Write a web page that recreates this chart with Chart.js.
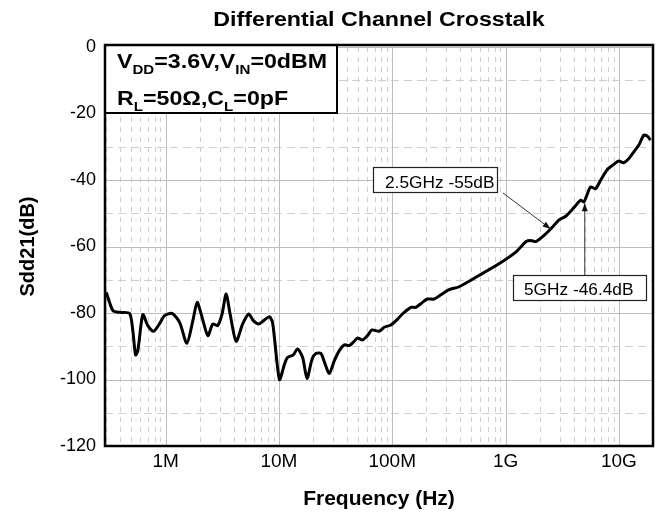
<!DOCTYPE html>
<html>
<head>
<meta charset="utf-8">
<script src="https://cdn.jsdelivr.net/npm/chart.js@4.4.1/dist/chart.umd.min.js"></script>
<style>
  html, body { margin: 0; padding: 0; background: #fff; }
  #wrap { width: 658px; height: 512px; }
</style>
</head>
<body>
<div id="wrap"><canvas id="xtalkChart" width="658" height="512"></canvas></div>
<script>
// data
const freqHz = [
  3.0e5, 3.43e5, 3.93e5, 4.81e5, 5.14e5, 5.43e5, 5.69e5, 6.30e5, 6.97e5, 7.83e5,
  8.85e5, 9.79e5, 1.14e6, 1.33e6, 1.54e6, 1.74e6, 1.90e6, 2.06e6, 2.36e6, 2.61e6,
  2.88e6, 3.15e6, 3.42e6, 3.71e6, 4.19e6, 4.79e6, 5.41e6, 5.95e6, 6.63e6, 7.44e6,
  8.24e6, 8.81e6, 1.01e7, 1.12e7, 1.19e7, 1.34e7, 1.46e7, 1.62e7, 1.77e7, 1.96e7,
  2.12e7, 2.35e7, 2.56e7, 2.78e7, 3.08e7, 3.40e7, 3.78e7, 4.18e7, 4.62e7, 4.94e7,
  5.47e7, 6.05e7, 6.62e7, 7.67e7, 8.49e7, 9.73e7, 1.08e8, 1.23e8, 1.46e8, 1.61e8,
  1.85e8, 2.04e8, 2.34e8, 2.69e8, 3.18e8, 3.89e8, 5.83e8, 8.75e8, 1.23e9, 1.52e9,
  1.67e9, 1.85e9, 2.26e9, 2.67e9, 2.96e9, 3.39e9, 4.01e9, 4.59e9, 4.91e9, 5.25e9,
  5.62e9, 6.22e9, 6.89e9, 7.88e9, 9.02e9, 9.98e9, 1.10e10, 1.22e10, 1.35e10, 1.50e10,
  1.66e10, 1.78e10, 1.90e10
];
const sdd21dB = [
  -73.8, -79.3, -79.8, -80.1, -85.3, -92.6, -91.3, -80.5, -83.8, -85.5,
  -83.2, -80.8, -80.1, -82.8, -89.1, -82.3, -76.8, -80.3, -86.8, -83.3,
  -83.8, -80.3, -74.3, -80.3, -88.5, -83.3, -80.3, -82.3, -83.3, -82.1,
  -81.1, -83.0, -100.0, -95.4, -93.4, -92.6, -90.8, -93.4, -99.7, -93.9,
  -92.2, -92.2, -95.4, -98.2, -94.4, -91.4, -89.6, -89.8, -88.5, -87.5,
  -88.1, -86.8, -85.1, -85.5, -84.3, -83.6, -82.3, -80.3, -78.3, -78.3,
  -76.8, -75.8, -75.8, -74.5, -73.0, -72.1, -68.7, -65.2, -61.7, -58.5,
  -58.2, -58.5, -56.2, -53.7, -52.0, -50.9, -48.3, -46.1, -46.6, -44.3,
  -42.1, -42.6, -40.1, -36.9, -35.3, -34.3, -34.8, -33.6, -31.6, -29.5,
  -26.5, -26.8, -28.0
];
const xTickValues = [1e6, 1e7, 1e8, 1e9, 1e10];
const xTickLabels = ['1M', '10M', '100M', '1G', '10G'];
const yTicks = [0, -20, -40, -60, -80, -100, -120];

// markers
const markFreq = [2.5e9, 5e9];
const markDb = [-55, -46.4];
const markText = ['2.5GHz -55dB', '5GHz -46.4dB'];

const FONT = '"Liberation Sans", Arial, sans-serif';

// draw text in pieces, some as subscripts, widened a bit like the original
function richText(ctx, x, y, parts, size, bold, stretch) {
  let cx = x;
  parts.forEach(function(p) {
    const sub = p[1];
    const fs = sub ? Math.round(size * 0.66) : size;
    ctx.font = (bold ? 'bold ' : 'normal ') + fs + 'px ' + FONT;
    ctx.save();
    ctx.translate(cx, y + (sub ? size * 0.28 : 0));
    ctx.scale(stretch, 1);
    ctx.fillText(p[0], 0, 0);
    ctx.restore();
    cx += ctx.measureText(p[0]).width * stretch;
  });
}

function arrow(ctx, x0, y0, x1, y1) {
  const a = Math.atan2(y1 - y0, x1 - x0);
  ctx.strokeStyle = '#333';
  ctx.fillStyle = '#111';
  ctx.lineWidth = 1;
  ctx.beginPath();
  ctx.moveTo(x0, y0);
  ctx.lineTo(x1, y1);
  ctx.stroke();
  ctx.beginPath();
  ctx.moveTo(x1, y1);
  ctx.lineTo(x1 - 8 * Math.cos(a) + 3 * Math.sin(a), y1 - 8 * Math.sin(a) - 3 * Math.cos(a));
  ctx.lineTo(x1 - 8 * Math.cos(a) - 3 * Math.sin(a), y1 - 8 * Math.sin(a) + 3 * Math.cos(a));
  ctx.closePath();
  ctx.fill();
}

const gridPlugin = {
  id: 'gridPlugin',
  beforeDatasetsDraw(chart) {
    const ctx = chart.ctx;
    const a = chart.chartArea;
    const xs = chart.scales.x, ys = chart.scales.y;
    ctx.save();
    ctx.lineWidth = 1;
    // minor vertical lines
    ctx.strokeStyle = '#cfcfcf';
    ctx.setLineDash([5, 5]);
    for (let d = 5; d <= 10; d++) {
      for (let m = 2; m <= 9; m++) {
        const v = m * Math.pow(10, d);
        if (v < xs.min || v > xs.max) continue;
        const px = Math.round(xs.getPixelForValue(v)) + 0.5;
        ctx.beginPath(); ctx.moveTo(px, a.top); ctx.lineTo(px, a.bottom); ctx.stroke();
      }
    }
    // minor horizontal lines
    ctx.setLineDash([8, 5]);
    for (let v = -110; v < 0; v += 20) {
      const py = Math.round(ys.getPixelForValue(v)) + 0.5;
      ctx.beginPath(); ctx.moveTo(a.left, py); ctx.lineTo(a.right, py); ctx.stroke();
    }
    // major lines
    ctx.setLineDash([]);
    ctx.strokeStyle = '#bdbdbd';
    xTickValues.forEach(function(v) {
      const px = Math.round(xs.getPixelForValue(v)) + 0.5;
      ctx.beginPath(); ctx.moveTo(px, a.top); ctx.lineTo(px, a.bottom); ctx.stroke();
    });
    yTicks.forEach(function(v) {
      const py = Math.round(ys.getPixelForValue(v)) + 0.5;
      ctx.beginPath(); ctx.moveTo(a.left, py); ctx.lineTo(a.right, py); ctx.stroke();
    });
    ctx.restore();
  },
  afterDatasetsDraw(chart) {
    const ctx = chart.ctx;
    const a = chart.chartArea;
    const xs = chart.scales.x, ys = chart.scales.y;
    ctx.save();
    ctx.textBaseline = 'alphabetic';
    ctx.textAlign = 'left';

    // condition box
    ctx.fillStyle = '#fff';
    ctx.fillRect(a.left, a.top - 2, 232, 68);
    ctx.strokeStyle = '#000';
    ctx.lineWidth = 2;
    ctx.strokeRect(a.left, a.top - 2, 232, 68);
    ctx.fillStyle = '#000';
    richText(ctx, a.left + 12, a.top + 21, [['V', 0], ['DD', 1], ['=3.6V,V', 0], ['IN', 1], ['=0dBM', 0]], 20, true, 1.16);
    richText(ctx, a.left + 12, a.top + 58, [['R', 0], ['L', 1], ['=50Ω,C', 0], ['L', 1], ['=0pF', 0]], 20, true, 1.16);

    // marker callouts
    const boxes = [[373, 167, 124, 25, 385, 188], [513, 275, 133, 25, 524, 295]];
    const starts = [[503, 193], [null, 275]];
    markFreq.forEach(function(f, i) {
      const tx = xs.getPixelForValue(f), ty = ys.getPixelForValue(markDb[i]);
      const b = boxes[i];
      const sx = starts[i][0] === null ? tx : starts[i][0];
      arrow(ctx, sx, starts[i][1], tx, ty + (i === 1 ? 2 : -1));
      ctx.fillStyle = '#fff';
      ctx.fillRect(b[0], b[1], b[2], b[3]);
      ctx.strokeStyle = '#222';
      ctx.lineWidth = 1.2;
      ctx.strokeRect(b[0] + 0.5, b[1] + 0.5, b[2], b[3]);
      ctx.fillStyle = '#000';
      richText(ctx, b[4], b[5], [[markText[i], 0]], 16, false, 1.08);
    });

    // plot frame
    ctx.strokeStyle = '#000';
    ctx.lineWidth = 2.5;
    ctx.strokeRect(a.left, a.top - 2, a.right - a.left, a.bottom - a.top + 2);
    ctx.restore();
  },
  afterDraw(chart) {
    const ctx = chart.ctx;
    const a = chart.chartArea;
    ctx.save();
    ctx.fillStyle = '#000';
    ctx.textBaseline = 'alphabetic';
    ctx.textAlign = 'left';
    const t = 'Differential Channel Crosstalk';
    ctx.font = 'bold 20px ' + FONT;
    const w = ctx.measureText(t).width * 1.16;
    richText(ctx, (a.left + a.right) / 2 - w / 2, 26, [[t, 0]], 20, true, 1.16);
    ctx.restore();
  }
};

new Chart('xtalkChart', {
  type: 'line',
  data: {
    datasets: [{
      data: freqHz.map(function(f, i) { return { x: f, y: sdd21dB[i] }; }),
      borderColor: '#000',
      borderWidth: 3,
      pointRadius: 0,
      tension: 0.25,
      fill: false
    }]
  },
  options: {
    responsive: false,
    animation: false,
    layout: { padding: { top: 47, right: 5, left: 0, bottom: 0 } },
    plugins: { legend: { display: false }, tooltip: { enabled: false }, title: { display: false } },
    scales: {
      x: {
        type: 'logarithmic',
        min: 2.92e5,
        max: 2.0e10,
        afterBuildTicks: function(scale) {
          scale.ticks = xTickValues.map(function(v) { return { value: v }; });
        },
        afterFit: function(scale) { scale.height = 66; },
        grid: { display: false, drawTicks: false },
        border: { display: false },
        ticks: {
          autoSkip: false,
          maxRotation: 0,
          padding: 4,
          color: '#000',
          font: { family: FONT, size: 19 },
          callback: function(v) {
            const i = xTickValues.indexOf(v);
            return i >= 0 ? xTickLabels[i] : '';
          }
        },
        title: {
          display: true,
          text: 'Frequency (Hz)',
          color: '#000',
          font: { family: FONT, size: 21, weight: 'bold' },
          padding: { top: 0, bottom: 0 }
        }
      },
      y: {
        min: -120,
        max: 0,
        afterBuildTicks: function(scale) {
          scale.ticks = yTicks.map(function(v) { return { value: v }; });
        },
        afterFit: function(scale) { scale.width = 105; },
        grid: { display: false, drawTicks: false },
        border: { display: false },
        ticks: {
          padding: 9,
          color: '#000',
          font: { family: FONT, size: 18 }
        },
        title: {
          display: true,
          text: 'Sdd21(dB)',
          color: '#000',
          font: { family: FONT, size: 20, weight: 'bold' },
          padding: { top: 16, bottom: 0 }
        }
      }
    }
  },
  plugins: [gridPlugin]
});
</script>
</body>
</html>
